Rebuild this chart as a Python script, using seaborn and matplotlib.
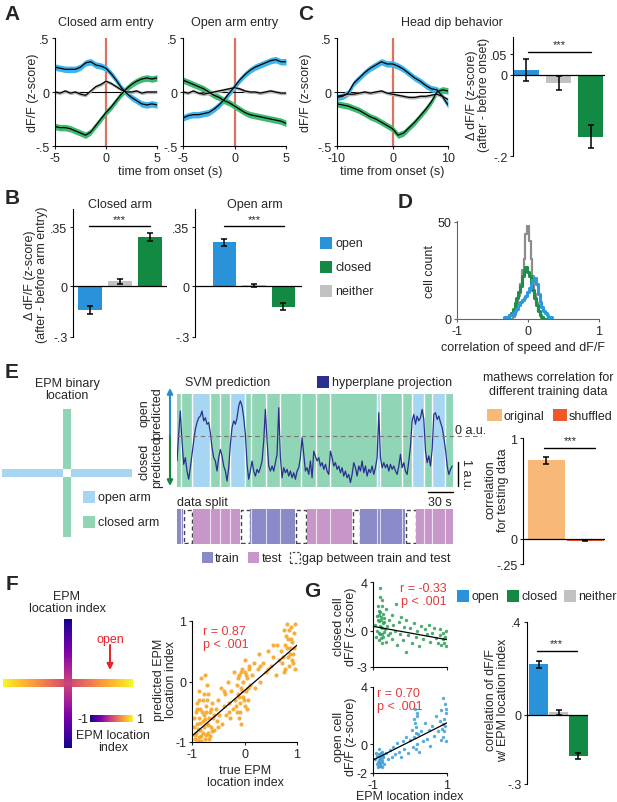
import numpy as np
import pandas as pd
import seaborn as sns
import matplotlib.pyplot as plt
from matplotlib.patches import Rectangle, FancyArrowPatch

# ---------------- data ----------------
# A: mean traces around arm entry (z-score)
t_A = [-5, -4.5, -4, -3.5, -3, -2.5, -2, -1.5, -1, -0.5, 0, 0.5, 1, 1.5, 2, 2.5, 3, 3.5, 4, 4.5, 5]
closed_entry_open = [0.23, 0.22, 0.21, 0.21, 0.21, 0.23, 0.27, 0.28, 0.25, 0.24, 0.22, 0.17, 0.11, 0.04, -0.01,
                     -0.05, -0.08, -0.11, -0.12, -0.11, -0.12]
closed_entry_closed = [-0.32, -0.33, -0.33, -0.34, -0.36, -0.38, -0.40, -0.37, -0.31, -0.25, -0.19, -0.14, -0.08,
                       -0.02, 0.03, 0.07, 0.10, 0.12, 0.13, 0.12, 0.13]
closed_entry_neither = [0.0, -0.01, 0.01, -0.01, 0.0, -0.02, -0.03, 0.01, 0.05, 0.07, 0.10, 0.08, 0.05, 0.02, 0.0,
                        0.0, 0.01, -0.01, 0.0, 0.0, 0.0]
open_entry_open = [-0.24, -0.22, -0.21, -0.21, -0.20, -0.19, -0.16, -0.12, -0.07, -0.01, 0.05, 0.11, 0.16, 0.20,
                   0.23, 0.25, 0.27, 0.29, 0.30, 0.28, 0.28]
open_entry_closed = [0.11, 0.09, 0.07, 0.05, 0.03, 0.0, -0.03, -0.05, -0.08, -0.10, -0.13, -0.16, -0.19, -0.21,
                     -0.22, -0.23, -0.24, -0.25, -0.26, -0.27, -0.29]
open_entry_neither = [0.0, -0.01, 0.01, -0.01, -0.02, -0.01, 0.0, 0.01, 0.02, 0.03, 0.04, 0.03, 0.01, 0.0, 0.0,
                      -0.01, 0.0, 0.01, 0.0, -0.01, -0.01]

# C: head dip traces
t_C = [-10, -9, -8, -7, -6, -5, -4, -3, -2, -1, 0, 1, 2, 3, 4, 5, 6, 7, 8, 9, 10]
dip_open = [-0.05, -0.04, -0.01, 0.08, 0.13, 0.18, 0.22, 0.25, 0.28, 0.26, 0.26, 0.24, 0.21, 0.17, 0.13, 0.10,
            0.06, 0.03, 0.02, -0.04, -0.12]
dip_closed = [-0.11, -0.12, -0.13, -0.15, -0.17, -0.20, -0.23, -0.25, -0.28, -0.31, -0.34, -0.40, -0.38, -0.33,
              -0.28, -0.22, -0.16, -0.09, 0.0, 0.02, 0.01]
dip_neither = [-0.04, -0.03, -0.02, -0.02, -0.01, 0.0, -0.01, 0.0, 0.01, -0.01, -0.02, -0.03, -0.04, -0.05,
               -0.05, -0.04, -0.04, -0.03, -0.02, -0.04, -0.07]
band_half = {'open': 0.03, 'closed': 0.03, 'neither': 0.015}

cell_types = ['open', 'neither', 'closed']
dip_delta = [0.012, -0.02, -0.152]
dip_delta_err = [0.028, 0.018, 0.028]

# B: delta after arm entry
closed_arm_delta = [-0.14, 0.03, 0.29]
closed_arm_err = [0.022, 0.015, 0.025]
open_arm_delta = [0.26, 0.005, -0.12]
open_arm_err = [0.02, 0.01, 0.02]

# D: histogram of speed correlation
hist_centers = [-0.325, -0.3, -0.275, -0.25, -0.225, -0.2, -0.175, -0.15, -0.125, -0.1, -0.075, -0.05, -0.025,
                0.0, 0.025, 0.05, 0.075, 0.1, 0.125, 0.15, 0.175, 0.2, 0.225, 0.25, 0.275, 0.3, 0.325]
hist_neither = [0, 0, 0, 0, 0, 1, 2, 6, 12, 18, 25, 31, 44, 48, 40, 31, 22, 13, 8, 4, 2, 1, 0, 0, 0, 0, 0]
hist_closed = [0, 0, 1, 2, 3, 5, 8, 11, 14, 17, 22, 25, 27, 24, 22, 18, 15, 11, 7, 4, 2, 1, 0, 0, 0, 0, 0]
hist_open = [1, 1, 1, 2, 2, 3, 4, 5, 7, 9, 10, 11, 12, 14, 16, 18, 20, 21, 18, 13, 9, 6, 4, 3, 2, 1, 1]

# E: SVM hyperplane projection (a.u.), one sample every 2 s
svm_t = list(range(0, 332, 2))
svm_v = [-1.04, 0.07, 1.04, -0.21, -1.18, -0.9, -1.46, -1.8, -1.32, -0.76,
         -0.21, 0.28, 0.56, 0.76, 0.83, 1.04, 0.63, 0.76, 0.49, 0.56,
         0.14, -0.49, -0.9, -1.04, -1.46, -0.9, -0.56, -0.83, -1.25, -1.46,
         -1.88, -1.32, -0.35, 0.35, 0.63, 0.49, 0.76, 1.25, 1.46, 1.25,
         0.76, 0.07, -1.18, -1.8, -1.46, -1.04, -1.46, -1.67, -1.39, -1.53,
         -1.32, -1.04, -0.21, 1.11, -0.21, -1.25, -1.46, -1.25, -1.46, -1.11,
         -0.76, 1.18, -0.9, -1.74, -1.32, -1.53, -1.39, -1.67, -1.46, -1.74,
         -1.53, -1.8, -1.46, -1.32, -0.9, -0.07, -0.76, -1.46, -1.32, -1.6,
         -1.04, -1.74, -0.63, -0.85,
         -1.04, -0.9, -1.25, -1.11, -1.39, -1.18, -1.46, -1.6, -0.63, -0.9,
         -1.25, -1.11, -1.39, -1.25, -1.53, -1.32, -1.67, -1.46, -1.74, -1.6,
         -1.94, -1.6, -1.11, -1.32, -1.67, -1.25, -1.46, -1.04, -1.53, -1.25,
         -1.67, -1.39, -1.53, -1.25, -1.6, -1.32, -0.9, 0.97, -0.9, -1.32,
         -1.11, -1.32, -1.18, -1.46, -1.18, -1.39, -1.25, -1.46, -1.6, -1.25,
         -0.76, -1.32, -1.11, -1.46, -1.6, -1.04, -0.42, 0.63, 0.9, 0.49,
         0.83, 0.63, 0.76, 1.11, 0.69, -0.63, -1.11, -0.83, -1.25, -0.56,
         0.9, 0.97, 0.69, 0.83, 0.56, 0.35, -0.07, -0.56, -1.25, -1.6,
         -1.39, -1.25]
zone_edges = [0, 5, 18, 39, 52, 64, 82, 89, 107, 123, 149, 167, 184, 240, 243, 270, 282, 296, 306, 322, 331]
zone_kind = ['c', 'c', 'o', 'c', 'c', 'o', 'c', 'c', 'c', 'c', 'c', 'c', 'c', 'o', 'c', 'c', 'o', 'c', 'o', 'c']
split_edges = [0, 7, 19, 76, 88, 142, 156, 210, 220, 274, 287, 331]
split_kind = ['train', 'gap', 'test', 'gap', 'train', 'gap', 'test', 'gap', 'train', 'gap', 'test']
mcc_groups = ['original', 'shuffled']
mcc_vals = [0.78, -0.02]
mcc_err = [0.035, 0.006]

# F: predicted vs true location index
f_x = [-0.95, -0.92, -0.9, -0.88, -0.87, -0.85, -0.84, -0.82, -0.8, -0.8, -0.78, -0.77, -0.75, -0.74, -0.72, -0.7,
       -0.7, -0.68, -0.66, -0.65, -0.63, -0.62, -0.6, -0.93, -0.9, -0.86, -0.83, -0.76, -0.72, -0.97,
       -0.96, -0.94, -0.91, -0.89, -0.87, -0.86, -0.84, -0.83, -0.81, -0.79, -0.78, -0.76, -0.74, -0.73, -0.71,
       -0.69, -0.67, -0.64, -0.61, -0.59,
       -0.58, -0.55, -0.52, -0.5, -0.48, -0.45, -0.42, -0.4, -0.38, -0.35, -0.32, -0.3, -0.27, -0.25, -0.22,
       -0.5, -0.4, -0.3,
       -0.18, -0.15, -0.14, -0.12, -0.1, -0.08, -0.06, -0.05, -0.03, -0.02, 0.0, 0.01, 0.03, 0.05, 0.06, 0.08,
       0.1, -0.1, 0.0, -0.2, -0.16, -0.13, -0.11, -0.09, -0.07, -0.04, -0.01, 0.02, 0.04, 0.07, 0.09, -0.06,
       0.15, 0.18, 0.2, 0.25, 0.28, 0.3, 0.35, 0.4, 0.45, 0.5, 0.55, 0.6, 0.62, 0.65, 0.3, 0.45, 0.55,
       0.7, 0.72, 0.75, 0.77, 0.78, 0.8, 0.82, 0.83, 0.85, 0.86, 0.88, 0.9, 0.91, 0.93, 0.95, 0.97,
       0.74, 0.79, 0.81, 0.84, 0.87, 0.89, 0.92, 0.94, 0.96, 0.76]
f_y = [-0.95, -0.85, -0.7, -0.98, -0.6, -0.8, -0.45, -0.9, -0.65, -0.3, -0.75, -0.55, -0.95, -0.4, -0.7, -0.85,
       -0.2, -0.6, -0.5, -0.9, -0.75, -0.35, -0.6, -0.5, -0.35, -0.15, 0.05, 0.1, -0.05, -0.75,
       -0.6, -0.88, -0.45, -0.78, -0.92, -0.3, -0.68, -0.98, -0.5, -0.85, -0.2, -0.62, -0.88, -0.5, -0.3,
       -0.72, -0.95, -0.45, -0.82, -0.55,
       -0.8, -0.45, -0.65, -0.3, -0.55, -0.1, -0.7, -0.4, -0.2, -0.55, 0.0, -0.35, -0.6, -0.15, -0.45,
       -0.75, -0.15, -0.5,
       -0.3, -0.05, -0.5, -0.2, 0.1, -0.35, -0.1, 0.2, -0.25, 0.0, -0.4, 0.15, -0.15, 0.05, -0.3, 0.25,
       -0.05, -0.6, 0.35, 0.15, -0.4, 0.05, -0.25, -0.5, 0.15, -0.15, -0.3, 0.1, -0.45, -0.1, 0.2, -0.7,
       0.1, 0.3, -0.1, 0.2, 0.45, 0.0, 0.3, 0.15, 0.5, 0.25, 0.4, 0.1, 0.6, 0.35, 0.25, 0.2, 0.6,
       0.5, 0.3, 0.85, 0.2, 0.6, 0.95, 0.4, 0.7, 0.25, 0.55, 0.9, 0.35, 0.65, 0.45, 0.8, 0.2,
       0.4, 0.75, 0.55, 0.85, 0.45, 0.7, 0.3, 0.55, 0.95, 0.15]
fit_F = [-0.15, 0.75]

# G: single-cell examples
g_closed_x = [-0.95, -0.92, -0.9, -0.88, -0.86, -0.85, -0.84, -0.82, -0.8, -0.8, -0.78, -0.77, -0.75, -0.74, -0.72,
              -0.7, -0.68, -0.66, -0.64, -0.62, -0.6, -0.58, -0.55, -0.5, -0.48, -0.45, -0.4, -0.38, -0.35, -0.3,
              -0.28, -0.25, -0.2, -0.15, -0.12, -0.1, -0.05, 0.0, 0.05, 0.1, 0.15, 0.2, 0.25, 0.3, 0.35, 0.4,
              0.45, 0.5, 0.55, 0.6, 0.65, 0.7, 0.75, 0.8, 0.82, 0.85, 0.88, 0.9, 0.92, 0.95, 0.97, 0.98,
              -0.87, -0.85, -0.83, -0.82, -0.81, -0.79, -0.78, -0.76, -0.75, -0.73, -0.71, -0.69, -0.79, -0.83,
              -0.77]
g_closed_y = [0.5, -0.5, 1.2, 0.0, 2.0, -0.8, 0.8, 3.5, -0.3, 1.5, 0.3, -1.0, 2.5, 0.6, -0.5, 1.0, 0.1, -0.9, 1.8,
              0.4, -0.4, 0.9, -0.2, 1.3, -0.7, 0.5, 0.0, 2.2, -1.2, 0.7, -0.3, 1.1, -0.8, 0.3, -1.8, 0.9, -0.4,
              0.2, -1.0, 0.6, -0.5, 0.0, -1.3, 0.4, -0.7, 0.1, -0.3, 0.5, -0.9, -0.2, 0.2, -0.6, -1.0, -0.4, 0.1,
              -1.2, -0.7, -0.2, -1.0, -0.5, 0.0, -1.3,
              0.9, 1.6, -0.2, 0.4, 2.8, -0.6, 1.1, 0.2, -0.3, 1.4, 0.7, -0.1, 0.9, 1.3, 2.0]
fit_G_closed = [-0.2, -0.55]
g_open_x = [-0.95, -0.92, -0.9, -0.88, -0.86, -0.85, -0.83, -0.82, -0.8, -0.78, -0.77, -0.75, -0.72, -0.7, -0.65,
            -0.6, -0.55, -0.5, -0.45, -0.4, -0.35, -0.3, -0.25, -0.2, -0.15, -0.1, -0.05, 0.0, 0.05, 0.08, 0.1,
            0.12, 0.14, 0.15, 0.17, 0.19, 0.2, 0.22, 0.25, 0.3, 0.35, 0.4, 0.45, 0.5, 0.55, 0.6, 0.65, 0.7, 0.75,
            0.8, 0.83, 0.85, 0.87, 0.88, 0.9, 0.92, 0.94, 0.95, 0.97, 0.98,
            -0.87, -0.85, -0.84, -0.82, -0.8, -0.79, -0.77, -0.76, -0.74, 0.13, 0.16, 0.18, 0.9, 0.93, 0.96]
g_open_y = [-1.0, -0.6, -1.4, -0.8, -1.6, -1.1, -0.3, -1.3, -0.9, -1.5, -0.5, -1.2, -0.8, -1.4, -0.6, -1.0, -0.4,
            -0.9, -0.2, -0.7, 0.1, -0.5, -0.9, 0.2, -0.3, 0.5, -0.6, 0.3, 1.0, -0.2, 1.8, 0.5, 2.5, -0.3, 1.2,
            0.0, 2.0, 0.7, -0.5, 0.9, 0.2, 1.5, 0.4, 1.0, -0.1, 1.3, 0.6, 2.0, 0.9, 1.6, 0.3, 2.4, 1.1, 3.2, 0.5,
            1.8, 2.8, 1.3, 0.2, 2.2,
            -1.2, -0.7, -1.5, -1.0, -1.3, -0.6, -1.1, -1.6, -0.9, 1.5, 0.8, 2.2, 1.4, 0.9, 2.5]
fit_G_open = [0.2, 1.3]
loc_corr = [0.217, 0.01, -0.18]
loc_corr_err = [0.015, 0.01, 0.012]

# ---------------- style ----------------
sns.set_style('ticks')
plt.rcParams['font.family'] = ['Liberation Sans', 'DejaVu Sans']
plt.rcParams.update({'font.size': 9, 'axes.linewidth': 0.8, 'axes.edgecolor': 'k',
                     'xtick.major.size': 2.5, 'ytick.major.size': 2.5,
                     'xtick.major.width': 0.8, 'ytick.major.width': 0.8,
                     'xtick.labelsize': 9, 'ytick.labelsize': 9,
                     'xtick.major.pad': 1.5, 'ytick.major.pad': 1.5,
                     'axes.unicode_minus': False})

BLUE_BAR, GREEN_BAR, GREY_BAR = '#2a92d8', '#138a43', '#c2c2c2'
band_col = {'open': '#3db5ec', 'closed': '#3dba72', 'neither': '#b5b5b5'}
bar_col = {'open': BLUE_BAR, 'closed': GREEN_BAR, 'neither': GREY_BAR}
RED_LINE = '#d9735f'
RED_TXT = '#e23a3a'
ZONE_COL = {'o': '#a6d6f2', 'c': '#8fd5b6'}
NAVY = '#2b2f91'

W, H = 617, 803
fig = plt.figure(figsize=(W / 100, H / 100), dpi=100)


def add_ax(x0, y0, x1, y1):
    return fig.add_axes([x0 / W, 1 - y1 / H, (x1 - x0) / W, (y1 - y0) / H])


def ftext(x, y, s, **kw):
    kw.setdefault('ha', 'center')
    kw.setdefault('va', 'center')
    fig.text(x / W, 1 - y / H, s, **kw)


def fsquare(x0, y0, x1, y1, fc, **kw):
    fig.add_artist(Rectangle((x0 / W, 1 - y1 / H), (x1 - x0) / W, (y1 - y0) / H,
                             transform=fig.transFigure, fc=fc, **kw))


def farrow(x0, y0, x1, y1, color, lw=1.5, ms=8):
    fig.add_artist(FancyArrowPatch((x0 / W, 1 - y0 / H), (x1 / W, 1 - y1 / H), transform=fig.transFigure,
                                   arrowstyle='-|>', mutation_scale=ms, color=color, lw=lw, shrinkA=0, shrinkB=0))


def letter(x, y, s):
    ftext(x, y, s, fontsize=15, fontweight='bold')


def trace_panel(ax, t, traces, xlim, xticks):
    ax.axvline(0, color=RED_LINE, lw=1.6, zorder=1)
    ax.axhline(0, color='k', lw=0.8, zorder=1)
    for key, m in traces.items():
        m = np.asarray(m)
        ax.fill_between(t, m - band_half[key], m + band_half[key], color=band_col[key], lw=0, zorder=2)
    for key, m in traces.items():
        sns.lineplot(x=t, y=m, color='k', linewidth=0.9, ax=ax, zorder=3)
    ax.set_xlim(*xlim)
    ax.set_ylim(-0.5, 0.5)
    ax.set_xticks(xticks)
    ax.set_yticks([-0.5, 0, 0.5])
    ax.set_yticklabels(['-.5', '0', '.5'])
    sns.despine(ax=ax)


def bar_panel(ax, cats, vals, errs, palette, width=0.8, sig=None):
    sns.barplot(x=cats, y=vals, hue=cats, order=cats, hue_order=cats, palette=palette, width=width,
                saturation=1, legend=False, errorbar=None, ax=ax, linewidth=0)
    ax.errorbar(range(len(vals)), vals, yerr=errs, fmt='none', ecolor='k', elinewidth=1.1,
                capsize=2.2, capthick=1.1, zorder=4)
    ax.axhline(0, color='k', lw=0.9, zorder=3)
    if sig is not None:
        i0, i1, y, dy = sig
        ax.plot([i0, i1], [y, y], color='k', lw=1)
        ax.text((i0 + i1) / 2, y + dy, '***', ha='center', va='bottom', fontsize=8)
    ax.set_xticks([])
    ax.set_xlabel('')
    ax.set_ylabel('')
    sns.despine(ax=ax, bottom=True)


# ---------------- A ----------------
letter(12, 15, 'A')
axA1 = add_ax(55, 39, 157, 147)
trace_panel(axA1, t_A, {'open': closed_entry_open, 'closed': closed_entry_closed,
                        'neither': closed_entry_neither}, (-5, 5), [-5, 0, 5])
axA2 = add_ax(183, 39, 286, 147)
trace_panel(axA2, t_A, {'open': open_entry_open, 'closed': open_entry_closed,
                        'neither': open_entry_neither}, (-5, 5), [-5, 0, 5])
ftext(106, 23, 'Closed arm entry')
ftext(235, 23, 'Open arm entry')
ftext(170, 172, 'time from onset (s)')
ftext(33, 93, 'dF/F (z-score)', rotation=90)

# ---------------- C ----------------
letter(306, 15, 'C')
axC1 = add_ax(337, 39, 448, 147)
trace_panel(axC1, t_C, {'open': dip_open, 'closed': dip_closed, 'neither': dip_neither}, (-10, 10), [-10, 0, 10])
ftext(452, 23, 'Head dip behavior')
ftext(392, 172, 'time from onset (s)')
ftext(306, 93, 'dF/F (z-score)', rotation=90)

axC2 = add_ax(513, 38, 605, 157)
bar_panel(axC2, cell_types, dip_delta, dip_delta_err, bar_col, width=0.78, sig=(0.05, 2, 0.057, 0.006))
axC2.set_xlim(-0.42, 2.45)
axC2.set_ylim(-0.2, 0.093)
axC2.set_yticks([-0.2, 0, 0.05])
axC2.set_yticklabels(['-.2', '0', '.05'])
ftext(478, 95, 'Δ dF/F (z-score)\n(after - before onset)', rotation=90, linespacing=1.1)

# ---------------- B ----------------
letter(12, 198, 'B')
axB1 = add_ax(73, 210, 167, 338)
bar_panel(axB1, cell_types, closed_arm_delta, closed_arm_err, bar_col, sig=(-0.05, 2, 0.355, 0.012))
axB1.set_xlim(-0.57, 2.57)
axB2 = add_ax(195, 210, 302, 338)
bar_panel(axB2, cell_types, open_arm_delta, open_arm_err, bar_col, sig=(0, 2.03, 0.355, 0.012))
axB2.set_xlim(-1.0, 2.63)
for ax in (axB1, axB2):
    ax.set_ylim(-0.3, 0.457)
    ax.set_yticks([-0.3, 0, 0.35])
    ax.set_yticklabels(['-.3', '0', '.35'])
ftext(120, 205, 'Closed arm')
ftext(255, 205, 'Open arm')
ftext(36, 275, 'Δ dF/F (z-score)\n(after - before arm entry)', rotation=90, linespacing=1.1)
for name, yc in zip(['open', 'closed', 'neither'], [244, 268, 292]):
    fsquare(320, yc - 6, 332, yc + 6, bar_col[name], lw=0)
    ftext(335, yc, name, ha='left')

# ---------------- D ----------------
letter(405, 203, 'D')
axD = add_ax(457, 222, 599, 320)
for counts, col, lw in [(hist_neither, '#8c8c8c', 1.6), (hist_closed, '#1a9146', 2.2), (hist_open, '#2b9be0', 2.2)]:
    hist_df = pd.DataFrame({'r': hist_centers, 'n': counts})
    sns.histplot(data=hist_df, x='r', weights='n', binwidth=0.025, binrange=(-0.3375, 0.3375),
                 element='step', fill=False, color=col, linewidth=lw, ax=axD)
axD.set_xlim(-1, 1)
axD.set_ylim(0, 50.5)
axD.set_xticks([-1, 0, 1])
axD.set_yticks([0, 50])
axD.set_xlabel('')
axD.set_ylabel('')
sns.despine(ax=axD)
for sp in ('left', 'bottom'):
    axD.spines[sp].set_color('#666666')
axD.tick_params(color='#666666')
ftext(430, 272, 'cell count', rotation=90)
ftext(523, 348, 'correlation of speed and dF/F')

# ---------------- E ----------------
letter(12, 372, 'E')
ftext(67, 390, 'EPM binary\nlocation', linespacing=1.1)
axEc = add_ax(0, 405, 135, 545)
axEc.set_xlim(0, 135)
axEc.set_ylim(545, 405)
axEc.axis('off')
for x0, y0, w, h, k in [(2, 470, 61, 8, 'o'), (71, 470, 61, 8, 'o'), (63, 410, 8, 60, 'c'), (63, 478, 8, 60, 'c')]:
    axEc.add_patch(Rectangle((x0, y0), w, h, fc=ZONE_COL[k], lw=0))
fsquare(83, 492, 95, 504, ZONE_COL['o'], lw=0)
ftext(98, 498, 'open arm', ha='left')
fsquare(83, 517, 95, 529, ZONE_COL['c'], lw=0)
ftext(98, 523, 'closed arm', ha='left')

axE = add_ax(177, 395, 453, 488)
for i, k in enumerate(zone_kind):
    axE.axvspan(zone_edges[i], zone_edges[i + 1], color=ZONE_COL[k], lw=0)
for e in zone_edges[1:-1]:
    axE.axvline(e, color='white', lw=1.0)
sns.lineplot(x=svm_t, y=svm_v, color=NAVY, linewidth=0.9, ax=axE)
axE.plot([0, 364], [0, 0], color='#777777', lw=0.8, ls=(0, (4, 3)), clip_on=False)
axE.plot([337, 337], [-1.08, -2.08], color='k', lw=1, clip_on=False)
axE.plot([301, 331], [-2.33, -2.33], color='k', lw=1, clip_on=False)
axE.set_xlim(0, 331)
axE.set_ylim(-2.125, 1.75)
axE.axis('off')
ftext(455, 431, '0 a.u.', ha='left')
ftext(466, 475, '1 a.u.', rotation=270)
ftext(440, 503, '30 s')
ftext(185, 383, 'SVM prediction', ha='left')
fsquare(317, 377, 329, 389, NAVY, lw=0)
ftext(332, 383, 'hyperplane projection', ha='left')
farrow(170, 437, 170, 389, '#1f8fd0')
farrow(170, 437, 170, 487, '#13873f')
ftext(151, 413, 'open\npredicted', rotation=90, linespacing=1.1)
ftext(151, 462, 'closed\npredicted', rotation=90, linespacing=1.1)

ftext(177, 503, 'data split', ha='left')
axS = add_ax(177, 510, 453, 545)
split_col = {'train': '#8a8ac9', 'test': '#c897c9'}
for i, k in enumerate(split_kind):
    s, e = split_edges[i], split_edges[i + 1]
    if k == 'gap':
        axS.add_patch(Rectangle((s + 0.8, 0.03), e - s - 1.6, 0.94, fc='white', ec='#444444', lw=1,
                                ls=(0, (3, 2))))
    else:
        axS.axvspan(s, e, color=split_col[k], lw=0)
        for z in zone_edges:
            if s < z < e:
                axS.axvline(z, color='white', lw=0.8, alpha=0.7)
axS.set_xlim(0, 331)
axS.set_ylim(0, 1)
axS.axis('off')
fsquare(202, 553, 213, 564, split_col['train'], lw=0)
ftext(215, 559, 'train', ha='left')
fsquare(248, 553, 259, 564, split_col['test'], lw=0)
ftext(262, 559, 'test', ha='left')
fsquare(290, 553, 300, 564, 'white', ec='#444444', lw=0.9, ls=(0, (2, 1.5)))
ftext(302, 559, 'gap between train and test', ha='left')

ftext(548, 385, 'mathews correlation for\ndifferent training data', linespacing=1.15)
fsquare(487, 410, 502, 422, '#f8b878', lw=0)
ftext(504, 417, 'original', ha='left')
fsquare(553, 410, 567, 422, '#f0572a', lw=0)
ftext(569, 417, 'shuffled', ha='left')
axEb = add_ax(523, 439, 605, 565)
bar_panel(axEb, mcc_groups, mcc_vals, mcc_err, {'original': '#f8b878', 'shuffled': '#f0572a'},
          width=0.93, sig=(-0.05, 1.25, 0.9, 0.03))
axEb.set_xlim(-0.6, 1.5)
axEb.set_ylim(-0.25, 1.0)
axEb.set_yticks([-0.25, 0, 1])
axEb.set_yticklabels(['-.25', '0', '1'])
ftext(497, 490, 'correlation\nfor testing data', rotation=90, linespacing=1.1)

# ---------------- F ----------------
letter(12, 585, 'F')
ftext(67, 603, 'EPM\nlocation index', linespacing=1.1)
axFc = add_ax(0, 612, 140, 760)
axFc.set_xlim(0, 140)
axFc.set_ylim(760, 612)
axFc.axis('off')
ramp = np.linspace(-1, 1, 201)
axFc.imshow(np.abs(ramp)[None, :], extent=(3, 133, 688, 680), cmap='plasma', vmin=-1, vmax=1, aspect='auto')
axFc.imshow(-np.abs(ramp)[:, None], extent=(64, 72, 749, 620), cmap='plasma', vmin=-1, vmax=1, aspect='auto')
axFc.imshow(ramp[None, :], extent=(90, 133, 723, 716), cmap='plasma', vmin=-1, vmax=1, aspect='auto')
axFc.set_xlim(0, 140)
axFc.set_ylim(760, 612)
ftext(88, 720, '-1', ha='right')
ftext(136, 720, '1', ha='left')
ftext(113, 742, 'EPM location\nindex', linespacing=1.1)
ftext(110, 640, 'open', color='#e8202a')
farrow(110, 646, 110, 671, '#e8202a', lw=1.4, ms=9)

axF = add_ax(192, 622, 297, 743)
sns.scatterplot(x=f_x, y=f_y, color='#f5a11c', s=9, linewidth=0, alpha=0.85, ax=axF)
xs = np.array([-1.0, 1.0])
axF.plot(xs, fit_F[0] + fit_F[1] * xs, color='k', lw=0.9)
axF.set_xlim(-1, 1)
axF.set_ylim(-1, 1)
axF.set_xticks([-1, 0, 1])
axF.set_yticks([-1, 0, 1])
sns.despine(ax=axF)
axF.text(0.1, 0.97, 'r = 0.87\np < .001', transform=axF.transAxes, ha='left', va='top', color=RED_TXT,
         linespacing=1.15)
ftext(165, 680, 'predicted EPM\nlocation index', rotation=90, linespacing=1.1)
ftext(245, 777, 'true EPM\nlocation index', linespacing=1.1)

# ---------------- G ----------------
letter(312, 592, 'G')
axG1 = add_ax(373, 583, 447, 668)
sns.scatterplot(x=g_closed_x, y=g_closed_y, color='#2e9e58', s=6, linewidth=0, alpha=0.85, ax=axG1)
axG1.plot(xs, fit_G_closed[0] + fit_G_closed[1] * xs, color='k', lw=0.9)
axG1.set_xlim(-1, 1)
axG1.set_ylim(-3, 4)
axG1.set_yticks([-3, 0, 4])
axG1.set_xticks([-1, 1])
axG1.set_xticklabels([])
sns.despine(ax=axG1)
axG1.text(1.0, 1.0, 'r = -0.33\np < .001', transform=axG1.transAxes, ha='right', va='top', color=RED_TXT,
          linespacing=1.15)
ftext(345, 627, 'closed cell\ndF/F (z-score)', rotation=90, linespacing=1.1)

axG2 = add_ax(373, 688, 447, 774)
sns.scatterplot(x=g_open_x, y=g_open_y, color='#3b9fd9', s=6, linewidth=0, alpha=0.85, ax=axG2)
axG2.plot(xs, fit_G_open[0] + fit_G_open[1] * xs, color='k', lw=0.9)
axG2.set_xlim(-1, 1)
axG2.set_ylim(-2, 4)
axG2.set_yticks([-2, 0, 4])
axG2.set_xticks([-1, 1])
sns.despine(ax=axG2)
axG2.text(0.05, 1.0, 'r = 0.70\np < .001', transform=axG2.transAxes, ha='left', va='top', color=RED_TXT,
          linespacing=1.15)
ftext(345, 737, 'open cell\ndF/F (z-score)', rotation=90, linespacing=1.1)
ftext(410, 797, 'EPM location index')

for name, x0 in zip(['open', 'closed', 'neither'], [457, 507, 564]):
    fsquare(x0, 591, x0 + 12, 603, bar_col[name], lw=0)
    ftext(x0 + 14, 597, name, ha='left')

axGb = add_ax(527, 623, 588, 785)
bar_panel(axGb, cell_types, loc_corr, loc_corr_err, bar_col, width=0.95, sig=(-0.1, 1.9, 0.276, 0.01))
axGb.set_xlim(-0.6, 2.48)
axGb.set_ylim(-0.3, 0.4)
axGb.set_yticks([-0.3, 0, 0.4])
axGb.set_yticklabels(['-.3', '0', '.4'])
ftext(497, 700, 'correlation of dF/F\nw/ EPM location index', rotation=90, linespacing=1.1)

fig.savefig('out.png', dpi=100)
